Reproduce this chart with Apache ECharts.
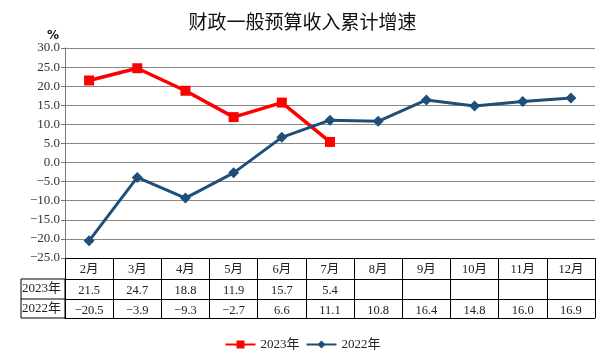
<!DOCTYPE html>
<html>
<head>
<meta charset="utf-8">
<script src="https://cdn.jsdelivr.net/npm/echarts@6/dist/echarts.min.js"></script>
<style>html,body{margin:0;padding:0;background:#fff}#c{width:605px;height:359px}</style>
</head>
<body>
<div id="c"></div>
<script>
var months = ['2月','3月','4月','5月','6月','7月','8月','9月','10月','11月','12月'];
var val2023 = [21.5, 24.7, 18.8, 11.9, 15.7, 5.4, null, null, null, null, null];
var val2022 = [-20.5, -3.9, -9.3, -2.7, 6.6, 11.1, 10.8, 16.4, 14.8, 16.0, 16.9];
var yTicks = {min: -25, max: 30, interval: 5};
var seriesNames = ['2023年', '2022年'];

var FONT = "'Liberation Serif', 'Noto Sans CJK SC', serif";
function fmt(v){ return (v === null || v === undefined) ? '' : v.toFixed(1).replace('-', '\u2212'); }

var chart = echarts.init(document.getElementById('c'));
var tableAxis = function(arr, offset, showLabel){
  return {
    type: 'category', data: months, position: 'bottom', offset: offset,
    axisLine: {show: true, onZero: false, lineStyle: {color: '#000', width: 1}},
    axisTick: {show: false},
    axisLabel: {show: showLabel, interval: 0, margin: 5, fontFamily: FONT, fontSize: 12.5, color: '#222',
      formatter: function(v, i){ return arr ? fmt(arr[i]) : ''; }},
    splitLine: {show: false}
  };
};
chart.setOption({
  animation: false,
  title: {text: '财政一般预算收入累计增速', left: 'center', top: 7,
    textStyle: {fontFamily: "'Noto Sans CJK SC', sans-serif", fontSize: 19, fontWeight: 'normal', color: '#111'}},
  grid: {left: 65, right: 10, top: 48, bottom: 101},
  legend: {bottom: 3, left: 'center', itemWidth: 30, itemHeight: 10, itemGap: 6,
    textStyle: {fontFamily: FONT, fontSize: 13, color: '#222'},
    data: seriesNames},
  xAxis: [
    {type: 'category', data: months, position: 'bottom',
      axisLine: {show: true, onZero: false, lineStyle: {color: '#000', width: 1}},
      axisTick: {show: true, length: 60, interval: 0, lineStyle: {color: '#000'}},
      axisLabel: {interval: 0, margin: 5, fontFamily: FONT, fontSize: 12.5, color: '#222'},
      splitLine: {show: false}},
    tableAxis(val2023, 21, true),
    tableAxis(val2022, 41, true),
    tableAxis(null, 60, false)
  ],
  yAxis: {type: 'value', min: yTicks.min, max: yTicks.max, interval: yTicks.interval,
    name: '%', nameLocation: 'end', nameGap: 6,
    nameTextStyle: {fontFamily: "'DejaVu Sans', sans-serif", fontSize: 12, fontWeight: 'bold', color: '#111', align: 'right', padding: [0, 6, 0, 0]},
    axisLine: {show: true, lineStyle: {color: '#777'}},
    axisTick: {show: true, length: 4, lineStyle: {color: '#777'}},
    axisLabel: {fontFamily: FONT, fontSize: 13, color: '#333', margin: 5, formatter: function(v){ return fmt(v); }},
    splitLine: {show: true, lineStyle: {color: '#888', width: 1}}
  },
  graphic: [
    {type: 'rect', shape: {x: 21, y: 279, width: 44, height: 39}, style: {fill: 'none', stroke: '#000', lineWidth: 1}},
    {type: 'line', shape: {x1: 21, y1: 299, x2: 65, y2: 299}, style: {stroke: '#000', lineWidth: 1}},
    {type: 'text', left: 22, top: 282, style: {text: seriesNames[0], font: "13px 'Liberation Serif', 'Noto Sans CJK SC'", fill: '#222'}},
    {type: 'text', left: 22, top: 302, style: {text: seriesNames[1], font: "13px 'Liberation Serif', 'Noto Sans CJK SC'", fill: '#222'}}
  ],
  series: [
    {name: seriesNames[0], type: 'line', data: val2023, symbol: 'rect', symbolSize: 10,
      lineStyle: {color: '#ff0000', width: 3.5}, itemStyle: {color: '#ff0000'}},
    {name: seriesNames[1], type: 'line', data: val2022, symbol: 'diamond', symbolSize: 11,
      lineStyle: {color: '#1f4e79', width: 3}, itemStyle: {color: '#1f4e79'}}
  ]
});
</script>
</body>
</html>
